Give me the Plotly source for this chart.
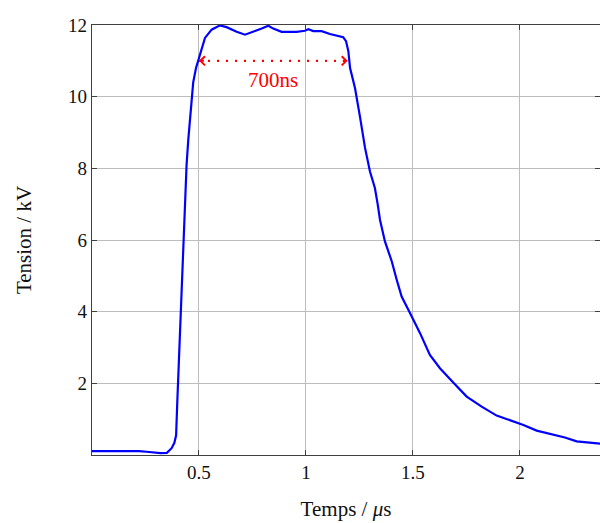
import plotly.graph_objects as go

# Time (µs) and voltage (kV)
time_us = [0.0, 0.06, 0.12, 0.178, 0.22, 0.255, 0.29, 0.32, 0.35, 0.372, 0.385, 0.393,
           0.399, 0.408, 0.419, 0.427, 0.433, 0.434, 0.436, 0.442, 0.450, 0.458, 0.466, 0.473,
           0.486, 0.505, 0.528, 0.559, 0.598, 0.629, 0.676, 0.715, 0.754, 0.793,
           0.824, 0.847, 0.886, 0.92, 0.956, 0.995, 1.011, 1.034, 1.073, 1.112,
           1.143, 1.174, 1.187, 1.198, 1.206, 1.229, 1.252, 1.276, 1.299, 1.322,
           1.335, 1.346, 1.369, 1.401, 1.424, 1.447, 1.486, 1.533, 1.579, 1.626,
           1.688, 1.751, 1.821, 1.891, 1.940, 1.977, 2.016, 2.078, 2.156, 2.210,
           2.265, 2.343, 2.40]
voltage_kv = [0.11, 0.11, 0.10, 0.12, 0.11, 0.09, 0.06, 0.05, 0.06, 0.19, 0.34, 0.55,
              1.55, 2.95, 4.35, 6.0, 7.05, 6.85, 7.3, 8.1, 8.8, 9.3, 9.9, 10.4,
              10.8, 11.17, 11.64, 11.87, 11.99, 11.94, 11.81, 11.73, 11.81, 11.90,
              11.98, 11.90, 11.81, 11.80, 11.81, 11.84, 11.88, 11.83, 11.83, 11.75,
              11.70, 11.66, 11.55, 11.27, 10.80, 10.24, 9.45, 8.57, 7.91, 7.45,
              7.0, 6.56, 5.96, 5.40, 4.89, 4.42, 3.96, 3.40, 2.79, 2.42,
              2.02, 1.63, 1.35, 1.10, 1.00, 0.93, 0.84, 0.68, 0.58, 0.49,
              0.38, 0.33, 0.30]

x_ticks = [0.5, 1, 1.5, 2]
x_tick_labels = ["0.5", "1", "1.5", "2"]
y_ticks = [2, 4, 6, 8, 10, 12]
y_tick_labels = ["2", "4", "6", "8", "10", "12"]

pulse_start = 0.5
pulse_end = 1.195
pulse_level = 11.0
pulse_label = "700ns"
pulse_label_y = 10.47

x_title = "Temps / <i>μ</i>s"
y_title = "Tension / kV"

fnt = "Liberation Serif"

fig = go.Figure()
fig.add_trace(go.Scatter(x=time_us, y=voltage_kv, mode="lines",
                         line=dict(color="#0000ff", width=2.2), showlegend=False,
                         hoverinfo="skip"))
# dotted measuring line
fig.add_trace(go.Scatter(x=[pulse_start, pulse_end], y=[pulse_level, pulse_level],
                         mode="lines", line=dict(color="#ff0000", width=2.2, dash="2px,7px"),
                         showlegend=False, hoverinfo="skip"))
# arrow heads
for tip, tail in [(pulse_start, pulse_start + 0.03), (pulse_end, pulse_end - 0.03)]:
    fig.add_annotation(x=tip, y=pulse_level, ax=tail, ay=pulse_level,
                       xref="x", yref="y", axref="x", ayref="y",
                       showarrow=True, arrowhead=4, arrowsize=1.1, arrowwidth=1.6,
                       arrowcolor="#ff0000", text="")
fig.add_annotation(x=(pulse_start + pulse_end) / 2, y=pulse_label_y, text=pulse_label,
                   showarrow=False, font=dict(family=fnt, size=21, color="#ff0000"))

axis_common = dict(showgrid=True, gridcolor="#bdbdbd", gridwidth=1,
                   showline=True, linecolor="#404040", linewidth=1.3, mirror="ticks",
                   ticks="inside", ticklen=5, tickcolor="#404040", tickwidth=1.2,
                   zeroline=False, tickfont=dict(family=fnt, size=19, color="#111"))

fig.update_xaxes(range=[0, 2.374], tickvals=x_ticks, ticktext=x_tick_labels,
                 title=dict(text=x_title, font=dict(family=fnt, size=21, color="#111"), standoff=19),
                 **axis_common)
fig.update_yaxes(range=[0, 12], tickvals=y_ticks, ticktext=y_tick_labels,
                 title=dict(text=y_title, font=dict(family=fnt, size=21, color="#111"), standoff=30),
                 **axis_common)

fig.update_layout(width=600, height=523, margin=dict(l=92, r=0, t=25, b=68),
                  plot_bgcolor="white", paper_bgcolor="white")

fig.write_html("out.html", config={"displayModeBar": False},
               post_script="document.body.style.margin='0';")
